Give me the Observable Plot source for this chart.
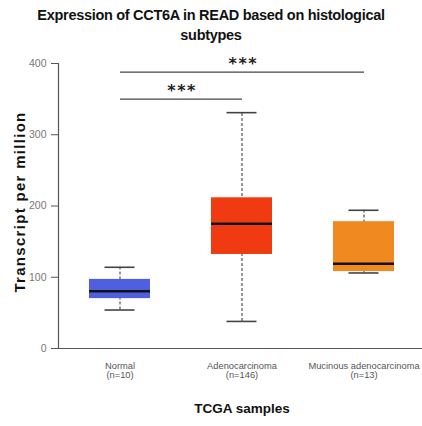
<!DOCTYPE html>
<html><head><meta charset="utf-8">
<script src="https://cdn.jsdelivr.net/npm/d3@7"></script>
<script src="https://cdn.jsdelivr.net/npm/@observablehq/plot@0.6"></script>
<style>
html,body{margin:0;padding:0;background:#fff;}
#title{width:422px;height:46px;text-align:center;font-family:"Liberation Sans",Arial,sans-serif;font-weight:bold;font-size:14.5px;line-height:20px;color:#111;padding-top:5px;box-sizing:border-box;letter-spacing:-0.3px;}
svg{display:block;}
</style></head>
<body>
<div id="title">Expression of CCT6A in READ based on histological<br>subtypes</div>
<div id="chart"></div>
<script>
const categories = ["Normal", "Adenocarcinoma", "Mucinous adenocarcinoma"];
const tickLabels = ["Normal\n(n=10)", "Adenocarcinoma\n(n=146)", "Mucinous adenocarcinoma\n(n=13)"];
const colors = ["#505ee0", "#f03a12", "#f0891f"];
const whiskerLow = [54, 38, 106];
const q1 = [70, 132, 108];
const medians = [80.5, 175, 119];
const q3 = [97, 211.5, 178];
const whiskerHigh = [114, 331, 194];
const sigFrom = ["Normal", "Normal"];
const sigTo = ["Adenocarcinoma", "Mucinous adenocarcinoma"];
const sigY = [350, 388];
const sigLabel = ["***", "***"];

const boxes = categories.map((c, i) => ({
  cat: c, lo: whiskerLow[i], q1: q1[i], med: medians[i], q3: q3[i], hi: whiskerHigh[i], color: colors[i]
}));
const sig = sigFrom.map((f, i) => ({from: f, to: sigTo[i], y: sigY[i], label: sigLabel[i]}));

const W = 422, ML = 58, XR = [ML, 425];
const step = (XR[1] - XR[0]) / 3;

const plot = Plot.plot({
  width: W, height: 380,
  marginLeft: ML, marginRight: 0, marginTop: 17, marginBottom: 78,
  style: {fontFamily: "'Liberation Sans',Arial,sans-serif", fontSize: "10px", color: "#666"},
  x: {domain: categories, range: XR, paddingInner: 0.5, paddingOuter: 0.25, axis: null},
  y: {domain: [0, 400], axis: null},
  marks: [
    Plot.axisY({ticks: [0, 100, 200, 300, 400], tickSize: 7, tickPadding: 5, stroke: "#555", fill: "#777", fontSize: 10.5, label: null}),
    Plot.axisX({tickSize: 0, tickPadding: 14, tickFormat: d => tickLabels[categories.indexOf(d)], fill: "#555", fontSize: 9.3, label: null}),
    Plot.text(["Transcript per million"], {frameAnchor: "left", textAnchor: "middle", dx: -38, dy: -4, rotate: -90, text: d => d, fontWeight: "bold", fontSize: 15, fill: "#111"}),
    Plot.text(["TCGA samples"], {x: [categories[1]], frameAnchor: "bottom", dy: 64, text: d => d, fontWeight: "bold", fontSize: 13.5, fill: "#111"}),
    Plot.ruleX(boxes, {x: "cat", y1: "lo", y2: "hi", stroke: "#777", strokeWidth: 1.5, strokeDasharray: "3,2"}),
    Plot.barY(boxes, {x: "cat", y1: "q1", y2: "q3", fill: "color"}),
    Plot.tickY(boxes, {x: "cat", y: "med", stroke: "#111", strokeWidth: 2.5}),
    Plot.tickY(boxes, {x: "cat", y: "lo", stroke: "#444", strokeWidth: 1.6, insetLeft: 15.5, insetRight: 15.5}),
    Plot.tickY(boxes, {x: "cat", y: "hi", stroke: "#444", strokeWidth: 1.6, insetLeft: 15.5, insetRight: 15.5}),
    Plot.ruleY([0], {stroke: "#555", strokeWidth: 1.2}),
    Plot.frame({anchor: "left", stroke: "#555", strokeWidth: 1.2}),
    Plot.link(sig, {x1: "from", x2: "to", y1: "y", y2: "y", stroke: "#444", strokeWidth: 1.3}),
    Plot.text(sig, {x: "from", y: "y", dx: step / 2 + 1, filter: d => d.to === categories[1], text: "label", dy: -8, fontSize: 16, fontWeight: "bold", fill: "#222", fontFamily: "'DejaVu Sans',sans-serif"}),
    Plot.text(sig, {x: "from", y: "y", dx: step + 1, filter: d => d.to === categories[2], text: "label", dy: -8, fontSize: 16, fontWeight: "bold", fill: "#222", fontFamily: "'DejaVu Sans',sans-serif"})
  ]
});
const sel = d3.select(plot).selectAll("text");
sel.filter(function(){ return this.textContent === "Transcript per million"; }).style("letter-spacing", "1.3px");
sel.filter(function(){ return this.textContent === "***"; }).style("letter-spacing", "1.5px");
document.getElementById("chart").appendChild(plot);
</script>
</body></html>
